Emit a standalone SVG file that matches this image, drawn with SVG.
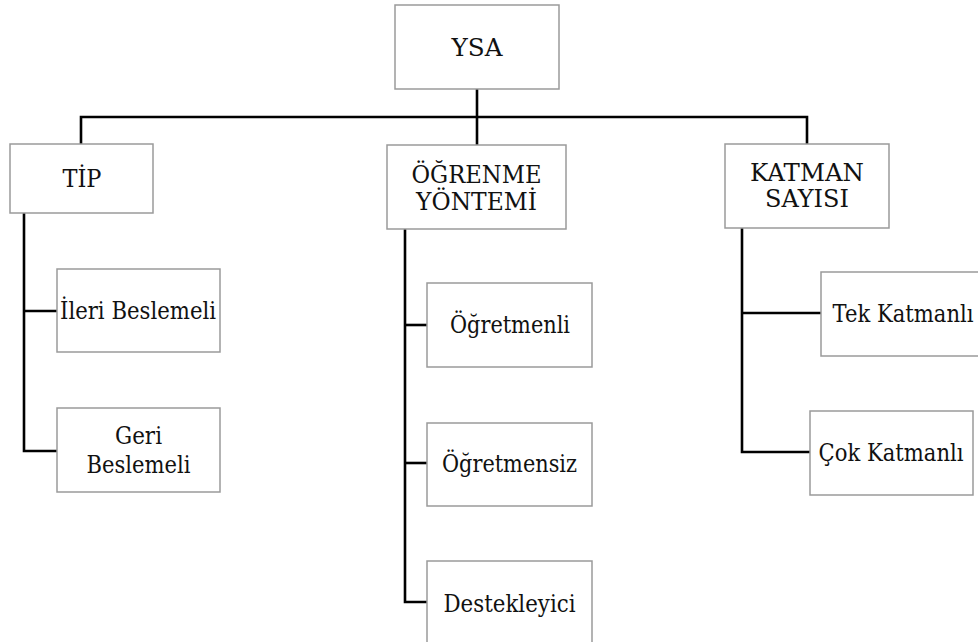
<svg xmlns="http://www.w3.org/2000/svg" width="978" height="642" viewBox="0 0 978 642">
  <style>
    .box { fill: #ffffff; stroke: #9a9a9a; stroke-width: 1.5; }
    .lbl { font-family: "DejaVu Serif", "Liberation Serif", serif; font-size: 24px; fill: #111111; text-anchor: middle; }
    .wire { fill: none; stroke: #000000; stroke-width: 2.6; stroke-linecap: butt; stroke-linejoin: miter; }
  </style>
  <rect width="978" height="642" fill="#ffffff"/>

  <!-- tree connectors -->
  <g id="connectors">
    <path class="wire" d="M477 89 V117"/>
    <path class="wire" d="M81 144 V117 H807 V144"/>
    <path class="wire" d="M477 117 V145"/>
    <!-- TİP branch -->
    <path class="wire" d="M24 213 V451 H57"/>
    <path class="wire" d="M24 311 H57"/>
    <!-- ÖĞRENME YÖNTEMİ branch -->
    <path class="wire" d="M405 229 V602 H427"/>
    <path class="wire" d="M405 325 H427"/>
    <path class="wire" d="M405 463 H427"/>
    <!-- KATMAN SAYISI branch -->
    <path class="wire" d="M742 228 V452 H810"/>
    <path class="wire" d="M742 313 H821"/>
  </g>

  <g id="ysa">
    <rect class="box" x="395" y="5" width="164" height="84"/>
    <text class="lbl" x="477" y="56" textLength="51" lengthAdjust="spacingAndGlyphs">YSA</text>
  </g>

  <g id="tip">
    <rect class="box" x="10" y="144" width="143" height="69"/>
    <text class="lbl" x="82" y="187" textLength="39" lengthAdjust="spacingAndGlyphs">TİP</text>
  </g>

  <g id="ogrenme-yontemi">
    <rect class="box" x="387" y="145" width="179" height="84"/>
    <text class="lbl" x="476.5" y="183" textLength="130" lengthAdjust="spacingAndGlyphs">ÖĞRENME</text>
    <text class="lbl" x="476.5" y="210" textLength="121" lengthAdjust="spacingAndGlyphs">YÖNTEMİ</text>
  </g>

  <g id="katman-sayisi">
    <rect class="box" x="725" y="144" width="164" height="84"/>
    <text class="lbl" x="807" y="181" textLength="114" lengthAdjust="spacingAndGlyphs">KATMAN</text>
    <text class="lbl" x="807" y="207" textLength="84" lengthAdjust="spacingAndGlyphs">SAYISI</text>
  </g>

  <g id="ileri-beslemeli">
    <rect class="box" x="57" y="269" width="163" height="83"/>
    <text class="lbl" x="138" y="319" textLength="156" lengthAdjust="spacingAndGlyphs">İleri Beslemeli</text>
  </g>

  <g id="geri-beslemeli">
    <rect class="box" x="57" y="408" width="163" height="84"/>
    <text class="lbl" x="138.5" y="444" textLength="47" lengthAdjust="spacingAndGlyphs">Geri</text>
    <text class="lbl" x="138.5" y="473" textLength="104" lengthAdjust="spacingAndGlyphs">Beslemeli</text>
  </g>

  <g id="ogretmenli">
    <rect class="box" x="427" y="283" width="165" height="84"/>
    <text class="lbl" x="510" y="333" textLength="120" lengthAdjust="spacingAndGlyphs">Öğretmenli</text>
  </g>

  <g id="ogretmensiz">
    <rect class="box" x="427" y="423" width="165" height="83"/>
    <text class="lbl" x="509.5" y="472" textLength="135" lengthAdjust="spacingAndGlyphs">Öğretmensiz</text>
  </g>

  <g id="destekleyici">
    <rect class="box" x="427" y="561" width="165" height="100"/>
    <text class="lbl" x="509.5" y="612" textLength="132" lengthAdjust="spacingAndGlyphs">Destekleyici</text>
  </g>

  <g id="tek-katmanli">
    <rect class="box" x="821" y="272" width="170" height="84"/>
    <text class="lbl" x="903" y="322" textLength="141" lengthAdjust="spacingAndGlyphs">Tek Katmanlı</text>
  </g>

  <g id="cok-katmanli">
    <rect class="box" x="810" y="411" width="163" height="84"/>
    <text class="lbl" x="891" y="461" textLength="145" lengthAdjust="spacingAndGlyphs">Çok Katmanlı</text>
  </g>
</svg>
